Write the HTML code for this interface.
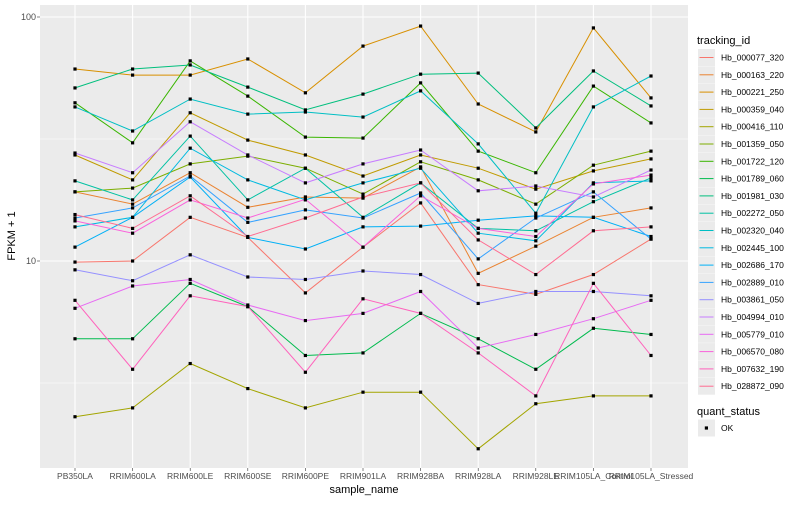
<!DOCTYPE html>
<html><head><meta charset="utf-8"><style>
body{margin:0;background:#fff;font-family:"Liberation Sans",sans-serif}
svg text{font-family:"Liberation Sans",sans-serif}
</style></head><body>
<svg id="chart" width="800" height="500" xmlns="http://www.w3.org/2000/svg">
<rect x="0" y="0" width="800" height="500" fill="#fff"/>
<rect x="40" y="5" width="648" height="463" fill="#ebebeb"/>
<g id="grid"></g><g id="series"></g><g id="axes"></g><g id="legend"></g>
</svg>
<script>
const categories=["PB350LA","RRIM600LA","RRIM600LE","RRIM600SE","RRIM600PE","RRIM901LA","RRIM928BA","RRIM928LA","RRIM928LE","RRIM105LA_Control","RRIM105LA_Stressed"];
const seriesNames=["Hb_000077_320","Hb_000163_220","Hb_000221_250","Hb_000359_040","Hb_000416_110","Hb_001359_050","Hb_001722_120","Hb_001789_060","Hb_001981_030","Hb_002272_050","Hb_002320_040","Hb_002445_100","Hb_002686_170","Hb_002889_010","Hb_003861_050","Hb_004994_010","Hb_005779_010","Hb_006570_080","Hb_007632_190","Hb_028872_090"];
const s01=[9.9,10.0,15.1,12.5,7.4,11.4,17.3,8.0,7.3,8.8,12.3];
const s02=[19.2,17.1,23.0,16.6,18.3,18.1,24.3,8.9,11.5,15.1,16.5];
const s03=[61.2,57.8,57.8,67.3,48.9,76.0,91.8,44.0,33.8,90.2,46.6];
const s04=[27.2,21.5,40.5,31.3,27.2,22.3,27.2,24.0,19.7,23.4,26.2];
const s05=[2.3,2.5,3.8,3.0,2.5,2.9,2.9,1.7,2.6,2.8,2.8];
const s06=[19.2,19.9,25.0,26.9,24.0,18.8,25.5,21.5,17.1,24.7,28.2];
const s07=[44.5,30.5,66.1,47.4,32.2,31.9,53.7,28.2,23.0,52.1,36.8];
const s08=[4.8,4.8,8.1,6.5,4.1,4.2,6.1,4.8,3.6,5.3,5.0];
const s09=[51.2,61.2,63.6,51.6,41.6,48.3,58.3,58.9,35.1,60.1,43.2];
const s10=[21.3,17.8,32.5,17.8,24.0,15.1,20.9,13.6,13.3,17.5,21.9];
const s11=[42.8,34.1,46.1,40.0,40.8,38.9,49.8,30.2,15.7,42.8,57.3];
const s12=[13.8,15.1,29.0,21.5,17.8,20.9,24.0,13.0,12.1,20.9,21.3];
const s13=[11.4,15.1,22.1,12.5,11.2,13.8,13.9,14.7,15.3,15.1,12.6];
const s14=[15.0,16.5,22.3,14.4,16.2,15.0,19.0,10.2,15.0,19.2,12.3];
const s15=[9.2,8.3,10.6,8.6,8.4,9.1,8.8,6.7,7.5,7.5,7.2];
const s16=[27.7,23.0,37.2,27.2,20.9,25.0,28.5,19.4,20.3,18.3,23.6];
const s17=[6.4,7.9,8.4,6.6,5.7,6.1,7.5,4.4,5.0,5.8,6.9];
const s18=[14.6,13.0,17.8,15.0,17.9,11.4,18.5,13.6,12.6,20.7,22.5];
const s19=[6.9,3.6,7.2,6.5,3.5,7.0,6.1,4.2,2.8,8.1,4.1];
const s20=[15.5,13.6,18.5,12.6,15.0,18.3,20.9,12.2,8.8,13.3,13.8];
const seriesValues=[s01,s02,s03,s04,s05,s06,s07,s08,s09,s10,s11,s12,s13,s14,s15,s16,s17,s18,s19,s20];
const yTickValues=[10,100];
const yTickLabels=["10","100"];
const yMinorValues=[3.1623,31.623];

const colors=["#F8766D","#EA8331","#D89000","#C09B00","#A3A500","#7CAE00","#39B600","#00BB4E","#00BF7D","#00C1A3","#00BFC4","#00BAE0","#00B0F6","#35A2FF","#9590FF","#C77CFF","#E76BF3","#FA62DB","#FF62BC","#FF6C91"];
const NS="http://www.w3.org/2000/svg";
function mk(t,a,p){const e=document.createElementNS(NS,t);for(const k in a)e.setAttribute(k,a[k]);p.appendChild(e);return e;}
function xScale(i){return 75+i*(651-75)/(categories.length-1);}
function yScale(v){return 261-(Math.log10(v)-1)*244;}
const grid=document.getElementById('grid'),ser=document.getElementById('series'),axes=document.getElementById('axes'),leg=document.getElementById('legend');
yMinorValues.forEach(v=>{const l=mk('line',{x1:40,x2:688,y1:yScale(v),y2:yScale(v),stroke:'#fff','stroke-width':0.5},grid);

});
yTickValues.forEach((v,i)=>{const l=mk('line',{x1:40,x2:688,y1:yScale(v),y2:yScale(v),stroke:'#fff','stroke-width':1.1},grid);


const t=mk('text',{x:36,y:yScale(v)+3,'text-anchor':'end','font-size':9,fill:'#4d4d4d'},axes);t.textContent=yTickLabels[i];


mk('line',{x1:37,x2:40,y1:yScale(v),y2:yScale(v),stroke:'#333','stroke-width':0.6},axes);});
categories.forEach((c,i)=>{const l=mk('line',{x1:xScale(i),x2:xScale(i),y1:5,y2:468,stroke:'#fff','stroke-width':1.1},grid);


mk('line',{x1:xScale(i),x2:xScale(i),y1:468,y2:471,stroke:'#333','stroke-width':0.6},axes);
const t=mk('text',{x:xScale(i),y:479,'text-anchor':'middle','font-size':8.5,fill:'#4d4d4d'},axes);t.textContent=c;

});
seriesValues.forEach((vals,si)=>{const g=mk('g',{},ser);


const pts=vals.map((v,i)=>xScale(i).toFixed(1)+','+yScale(v).toFixed(1)).join(' ');
const pl=mk('polyline',{points:pts,fill:'none',stroke:colors[si],'stroke-width':1},g);


vals.forEach((v,i)=>{const r=mk('rect',{x:xScale(i)-1.6,y:yScale(v)-1.6,width:3.2,height:3.2,fill:'#000'},g);

});});
let t=mk('text',{x:364,y:493,'text-anchor':'middle','font-size':11,fill:'#000'},axes);t.textContent='sample_name';


t=mk('text',{x:0,y:0,'text-anchor':'middle','font-size':11,fill:'#000',transform:'translate(15,236) rotate(-90)'},axes);t.textContent='FPKM + 1';


t=mk('text',{x:697,y:44,'font-size':11,fill:'#000'},leg);t.textContent='tracking_id';


seriesNames.forEach((n,i)=>{const y=57.5+i*17.3;const g=mk('g',{},leg);


mk('rect',{x:698,y:y-8.5,width:17,height:17,fill:'#ebebeb'},g);
mk('line',{x1:699.5,x2:713.5,y1:y,y2:y,stroke:colors[i],'stroke-width':1},g);
const tt=mk('text',{x:721,y:y+3,'font-size':8.5,fill:'#000'},g);tt.textContent=n;});
t=mk('text',{x:697,y:415,'font-size':11,fill:'#000'},leg);t.textContent='quant_status';


const g2=mk('g',{},leg);


mk('rect',{x:698,y:419.5,width:17,height:17,fill:'#ebebeb'},g2);
mk('rect',{x:704.8,y:426.4,width:3.2,height:3.2,fill:'#000'},g2);
const tk=mk('text',{x:721,y:431,'font-size':8.5,fill:'#000'},g2);tk.textContent='OK';
</script>
</body></html>
